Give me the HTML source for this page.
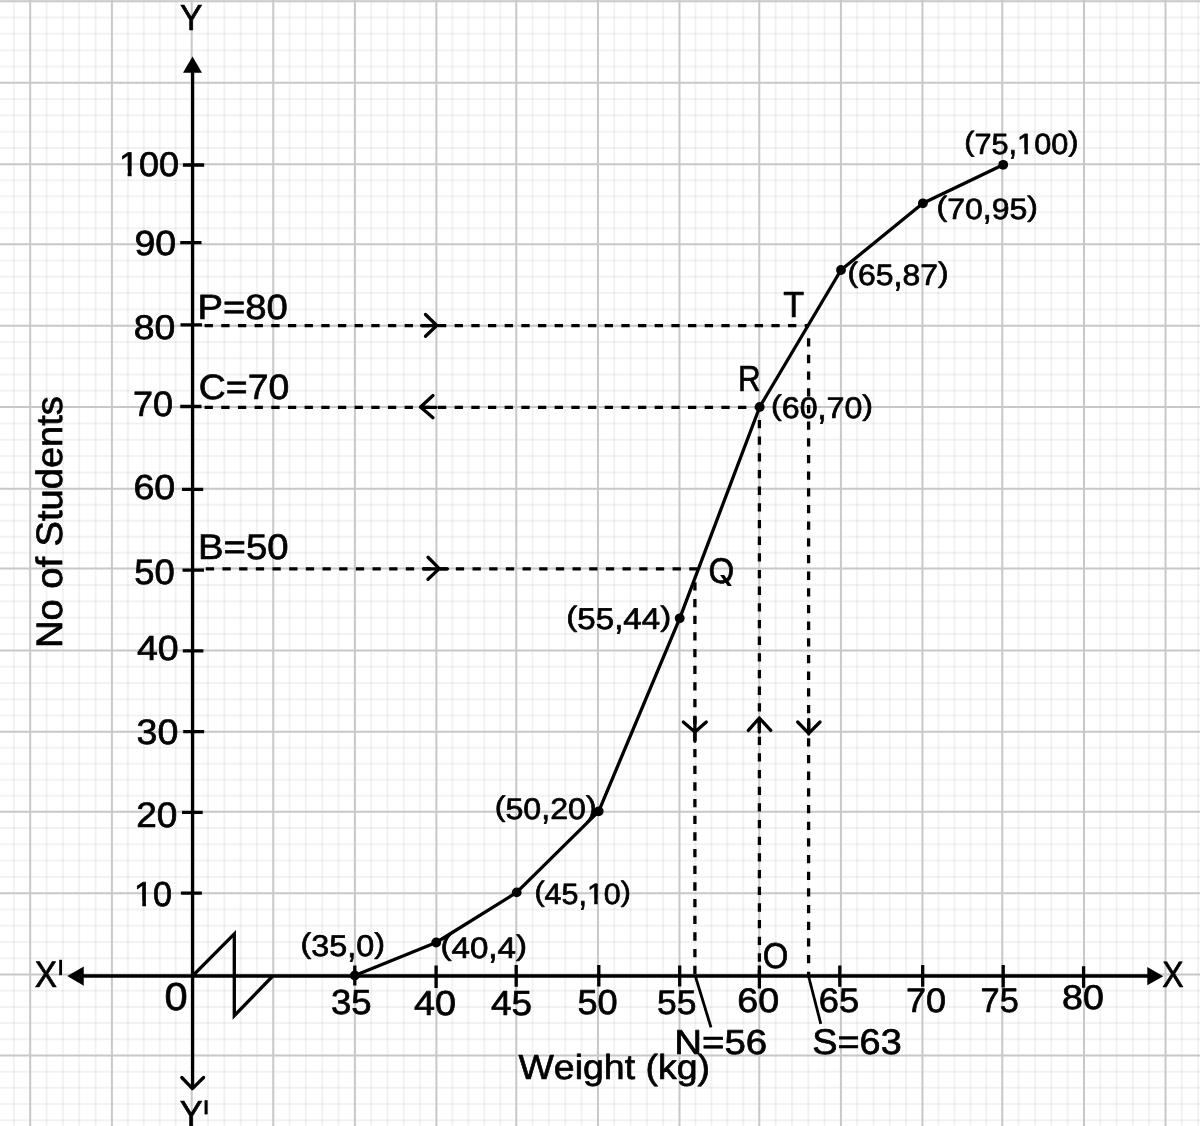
<!DOCTYPE html>
<html><head><meta charset="utf-8"><title>Ogive: Weight (kg) vs No of Students</title>
<style>
html,body{margin:0;padding:0;background:#fff;overflow:hidden}
svg{display:block}
text{font-family:"Liberation Sans",sans-serif}
</style></head>
<body>
<svg width="1200" height="1126" viewBox="0 0 1200 1126" style="will-change:transform" text-rendering="geometricPrecision">
<rect width="1200" height="1126" fill="#fff"/>
<defs><clipPath id="c0"><path clip-rule="evenodd" d="M-50 -51.48H152.96V34.32H-50ZM1.11 -5.91H8.28V1.85H1.11ZM12.01 -5.91H18.91V1.85H12.01Z"/></clipPath><clipPath id="c1"><path clip-rule="evenodd" d="M-50 -51.91H119.21V34.60H-50ZM1.14 -5.94H8.35V1.85H1.14ZM12.11 -5.94H19.06V1.85H12.11Z"/></clipPath><clipPath id="c2"><path clip-rule="evenodd" d="M-50 -44.07H108.76V29.38H-50ZM0.74 -5.54H7.04V1.85H0.74ZM10.33 -5.54H16.40V1.85H10.33Z"/></clipPath><clipPath id="c3"><path clip-rule="evenodd" d="M-50 -43.86H137.71V29.24H-50ZM0.73 -5.53H7.00V1.85H0.73ZM10.29 -5.53H16.33V1.85H10.29Z"/></clipPath><clipPath id="cq"><rect x="-10" y="-46.45" width="71.47" height="47.35"/></clipPath></defs>
<path d="M13.86 0V1126M46.54 0V1126M62.88 0V1126M79.22 0V1126M95.56 0V1126M127.86 0V1126M143.82 0V1126M159.78 0V1126M175.74 0V1126M208.01 0V1126M224.32 0V1126M240.63 0V1126M256.94 0V1126M289.58 0V1126M305.91 0V1126M322.24 0V1126M338.57 0V1126M371.20 0V1126M387.50 0V1126M403.80 0V1126M420.10 0V1126M452.37 0V1126M468.34 0V1126M484.31 0V1126M500.28 0V1126M532.59 0V1126M548.93 0V1126M565.27 0V1126M581.61 0V1126M614.26 0V1126M630.57 0V1126M646.88 0V1126M663.19 0V1126M695.46 0V1126M711.42 0V1126M727.38 0V1126M743.34 0V1126M775.62 0V1126M791.94 0V1126M808.26 0V1126M824.58 0V1126M857.21 0V1126M873.52 0V1126M889.83 0V1126M906.14 0V1126M938.41 0V1126M954.37 0V1126M970.33 0V1126M986.29 0V1126M1018.60 0V1126M1034.95 0V1126M1051.30 0V1126M1067.65 0V1126M1100.30 0V1126M1116.60 0V1126M1132.90 0V1126M1149.20 0V1126M1181.80 0V1126M1198.10 0V1126" stroke="#000" stroke-opacity="0.052" stroke-width="2" fill="none"/>
<path d="M0 17.51H1200M0 33.82H1200M0 50.13H1200M0 66.44H1200M0 99.06H1200M0 115.37H1200M0 131.68H1200M0 147.99H1200M0 180.28H1200M0 196.26H1200M0 212.24H1200M0 228.22H1200M0 260.50H1200M0 276.80H1200M0 293.10H1200M0 309.40H1200M0 341.98H1200M0 358.26H1200M0 374.54H1200M0 390.82H1200M0 423.44H1200M0 439.78H1200M0 456.12H1200M0 472.46H1200M0 504.76H1200M0 520.72H1200M0 536.68H1200M0 552.64H1200M0 584.96H1200M0 601.32H1200M0 617.68H1200M0 634.04H1200M0 666.66H1200M0 682.92H1200M0 699.18H1200M0 715.44H1200M0 747.69H1200M0 763.68H1200M0 779.67H1200M0 795.66H1200M0 827.96H1200M0 844.27H1200M0 860.58H1200M0 876.89H1200M0 909.46H1200M0 925.72H1200M0 941.98H1200M0 958.24H1200M0 990.69H1200M0 1006.88H1200M0 1023.07H1200M0 1039.26H1200M0 1071.66H1200M0 1087.87H1200M0 1104.08H1200M0 1120.29H1200" stroke="#000" stroke-opacity="0.052" stroke-width="2" fill="none"/>
<path d="M30.20 0V1126M111.90 0V1126M191.70 0V1126M273.25 0V1126M354.90 0V1126M436.40 0V1126M516.25 0V1126M597.95 0V1126M679.50 0V1126M759.30 0V1126M840.90 0V1126M922.45 0V1126M1002.25 0V1126M1084.00 0V1126M1165.50 0V1126M0 1.20H1200M0 82.75H1200M0 164.30H1200M0 244.20H1200M0 325.70H1200M0 407.10H1200M0 488.80H1200M0 568.60H1200M0 650.40H1200M0 731.70H1200M0 811.65H1200M0 893.20H1200M0 974.50H1200M0 1055.45H1200M0 1136.50H1200" stroke="#c8c8c8" stroke-width="2" fill="none"/>
<g stroke="#000" stroke-width="3.3" fill="none">
<path d="M192.6 70V1088.5"/>
<path d="M80 976H1150"/>
<path d="M181.8 1077.5L192.4 1088.6L203.6 1077.5" stroke-linecap="round" stroke-linejoin="round"/>
<path d="M192.5 976L234.3 933.9V1015.7L272.8 976" stroke-linejoin="miter" stroke-miterlimit="10"/>
<path d="M182.9 165.0H204.2M180.2 242.6H201.5M180.5 324.8H202.0M180.2 406.5H201.5M182.0 489.3H203.2M182.5 570.1H204.0M182.8 650.9H203.4M183.2 731.6H204.1M182.0 812.3H202.7M180.9 893.1H201.9"/>
<path d="M354.8 965.5V985.5M436.1 965.5V988.0M516.2 965.0V986.8M598.8 965.0V986.5M679.7 965.5V986.5M759.4 965.5V988.5M839.8 965.5V986.8M922.7 965.0V986.8M1003.2 965.0V987.5M1083.6 966.2V987.8"/>
</g>
<path d="M192.5 56.4L183 72.7H202Z" fill="#000"/>
<path d="M67.25 976L83.75 966.5V985.75Z" fill="#000"/>
<path d="M1163.3 976.2L1147.3 967V985.3Z" fill="#000"/>
<g stroke="#000" stroke-width="3.3" fill="none" stroke-dasharray="8.3 8.37">
<path d="M204.6 325.6H809"/>
<path d="M204.6 407.3H759.7"/>
<path d="M205.8 568.8H697"/>
<path d="M694.9 582.3V976"/>
<path d="M759.4 419.9V976"/>
<path d="M808.6 338.2V976"/>
</g>
<g stroke="#000" stroke-width="3.3" fill="none" stroke-linecap="round" stroke-linejoin="round">
<path d="M425.5 314.5L436.75 325.5L425.5 336.25M421.5 325.6H436"/>
<path d="M433 395.5L420.5 407L433 417.75M420.5 407.3H436"/>
<path d="M428 557.25L439.25 568.6L428 579.25M423.5 568.8H447.5"/>
<path d="M683.3 722L694.9 732L706.3 722M694.9 717.3V741.3"/>
<path d="M748.4 730.4L759.3 718L770.7 730.4M759.3 718V732"/>
<path d="M797.7 722L808.7 733.3L820 722M808.7 719.3V734"/>
</g>
<g stroke="#000" stroke-width="2.8" fill="none">
<path d="M695.3 976L711 1027.4"/>
<path d="M808.5 976L820.8 1023.8"/>
</g>
<path d="M354.8 975.5L436.2 942.5L516.7 892.4L598.7 811.3L679.7 618.3L759.7 407L841 270L922.9 203.3L1003.2 164.8" stroke="#000" stroke-width="3.3" fill="none" stroke-linejoin="round"/>
<circle cx="354.8" cy="975.5" r="4.9" fill="#000"/>
<circle cx="436.2" cy="942.5" r="4.9" fill="#000"/>
<circle cx="516.7" cy="892.4" r="4.9" fill="#000"/>
<circle cx="598.7" cy="811.3" r="4.9" fill="#000"/>
<circle cx="679.7" cy="618.3" r="4.9" fill="#000"/>
<circle cx="759.7" cy="407" r="4.9" fill="#000"/>
<circle cx="841" cy="270" r="4.9" fill="#000"/>
<circle cx="922.9" cy="203.3" r="4.9" fill="#000"/>
<circle cx="1003.2" cy="164.8" r="4.9" fill="#000"/>
<g font-family="Liberation Sans, sans-serif" fill="#000" stroke="#000" stroke-width="0.7" stroke-linejoin="round" style="font-kerning:none">
<text transform="translate(118.99,176.01) scale(1.0471,1)" font-size="34.32" clip-path="url(#c0)">100</text>
<text transform="translate(134.39,255.11) scale(1.0752,1)" font-size="34.89">90</text>
<text transform="translate(133.73,339.31) scale(1.0893,1)" font-size="34.32">80</text>
<text transform="translate(132.90,416.06) scale(1.0218,1)" font-size="35.24">70</text>
<text transform="translate(133.44,499.31) scale(1.0881,1)" font-size="34.60">60</text>
<text transform="translate(134.29,584.11) scale(1.0361,1)" font-size="35.17">50</text>
<text transform="translate(136.89,660.21) scale(1.0753,1)" font-size="34.89">40</text>
<text transform="translate(136.62,744.10) scale(1.0600,1)" font-size="35.45">30</text>
<text transform="translate(136.19,827.10) scale(1.0437,1)" font-size="35.45">20</text>
<text transform="translate(134.06,906.11) scale(0.9879,1)" font-size="34.60" clip-path="url(#c1)">10</text>
<text transform="translate(330.96,1014.11) scale(1.0469,1)" font-size="34.89">35</text>
<text transform="translate(413.88,1015.01) scale(1.0923,1)" font-size="34.60">40</text>
<text transform="translate(491.00,1015.01) scale(1.0610,1)" font-size="34.83">45</text>
<text transform="translate(577.50,1014.11) scale(1.0461,1)" font-size="34.60">50</text>
<text transform="translate(656.93,1014.12) scale(1.0393,1)" font-size="34.18">55</text>
<text transform="translate(737.24,1012.32) scale(1.1085,1)" font-size="33.97">60</text>
<text transform="translate(818.75,1012.32) scale(1.0698,1)" font-size="33.97">65</text>
<text transform="translate(905.90,1012.32) scale(1.0601,1)" font-size="33.97">70</text>
<text transform="translate(980.59,1012.32) scale(1.0069,1)" font-size="34.11">75</text>
<text transform="translate(1062.12,1009.01) scale(1.0950,1)" font-size="34.32">80</text>
<text transform="translate(180.01,29.65) scale(0.9313,1)" font-size="36.19">Y</text>
<text transform="translate(34.85,986.65) scale(0.9071,1)" font-size="36.77">X</text>
<text transform="translate(1162.33,986.90) scale(0.8774,1)" font-size="36.56">X</text>
<text transform="translate(179.80,1126.15) scale(0.9490,1)" font-size="36.19">Y</text>
<text transform="translate(164.62,1010.17) scale(1.0679,1)" font-size="38.98">0</text>
<text transform="translate(197.41,319.01) scale(1.0925,1)" font-size="35.03">P=80</text>
<text transform="translate(198.85,399.41) scale(1.0636,1)" font-size="35.17">C=70</text>
<text transform="translate(198.00,559.40) scale(1.0776,1)" font-size="35.59">B=50</text>
<text transform="translate(783.33,316.55) scale(0.9418,1)" font-size="36.34">T</text>
<text transform="translate(738.07,391.35) scale(0.8702,1)" font-size="36.19">R</text>
<text transform="translate(762.69,968.10) scale(0.9188,1)" font-size="35.88">O</text>
<text transform="translate(674.19,1053.51) scale(1.1131,1)" font-size="34.60">N=56</text>
<text transform="translate(812.23,1053.70) scale(1.0596,1)" font-size="35.73">S=63</text>
<text transform="translate(518.49,1079.05) scale(1.0743,1)" font-size="34.88">Weight (kg)</text>
<text transform="translate(300.44,953.10) scale(1.0804,0.9517)" font-size="29.94">(</text>
<text transform="translate(311.22,956.06) scale(1.0804,1)" font-size="29.94">35</text>
<text transform="translate(347.20,956.52) scale(1.0804,1.2087)" font-size="29.94">,</text>
<text transform="translate(356.19,956.06) scale(1.0804,1)" font-size="29.94">0</text>
<text transform="translate(374.18,953.10) scale(1.0804,0.9517)" font-size="29.94">)</text>
<text transform="translate(440.39,954.77) scale(1.1245,0.9545)" font-size="29.52">(</text>
<text transform="translate(451.45,957.66) scale(1.1245,1)" font-size="29.52">40</text>
<text transform="translate(488.37,958.12) scale(1.1245,1.2260)" font-size="29.52">,</text>
<text transform="translate(497.59,957.66) scale(1.1245,1)" font-size="29.52">4</text>
<text transform="translate(516.05,954.77) scale(1.1245,0.9545)" font-size="29.52">)</text>
<text transform="translate(534.46,901.29) scale(1.0364,0.9554)" font-size="29.38">(</text>
<text transform="translate(544.60,904.16) scale(1.0364,1)" font-size="29.38">45</text>
<text transform="translate(578.47,904.62) scale(1.0364,1.2319)" font-size="29.38">,</text>
<text transform="translate(586.93,904.16) scale(1.0364,1)" font-size="29.38" clip-path="url(#c2)">10</text>
<text transform="translate(620.80,901.29) scale(1.0364,0.9554)" font-size="29.38">)</text>
<text transform="translate(494.76,816.02) scale(1.0790,0.9526)" font-size="29.80">(</text>
<text transform="translate(505.46,818.96) scale(1.0790,1)" font-size="29.80">50</text>
<text transform="translate(541.23,819.42) scale(1.0790,1.2144)" font-size="29.80">,</text>
<text transform="translate(550.17,818.96) scale(1.0790,1)" font-size="29.80">20</text>
<text transform="translate(585.94,816.02) scale(1.0790,0.9526)" font-size="29.80">)</text>
<text transform="translate(566.30,625.94) scale(1.1001,0.9398)" font-size="30.10">(</text>
<text transform="translate(577.32,628.86) scale(1.1001,1)" font-size="30.10">55</text>
<text transform="translate(614.15,629.32) scale(1.1001,1.2025)" font-size="30.10">,</text>
<text transform="translate(623.35,628.86) scale(1.1001,1)" font-size="30.10">44</text>
<text transform="translate(660.18,625.94) scale(1.1001,0.9398)" font-size="30.10">)</text>
<text transform="translate(771.05,415.32) scale(1.0801,0.9526)" font-size="29.80">(</text>
<text transform="translate(781.77,418.26) scale(1.0801,1)" font-size="29.80">60</text>
<text transform="translate(817.58,418.72) scale(1.0801,1.2144)" font-size="29.80">,</text>
<text transform="translate(826.52,418.26) scale(1.0801,1)" font-size="29.80">70</text>
<text transform="translate(862.33,415.32) scale(1.0801,0.9526)" font-size="29.80">)</text>
<text transform="translate(847.47,282.17) scale(1.0804,0.9545)" font-size="29.52">(</text>
<text transform="translate(858.09,285.06) scale(1.0804,1)" font-size="29.52">65</text>
<text transform="translate(893.57,285.52) scale(1.0804,1.2260)" font-size="29.52">,</text>
<text transform="translate(902.43,285.06) scale(1.0804,1)" font-size="29.52">87</text>
<text transform="translate(937.91,282.17) scale(1.0804,0.9545)" font-size="29.52">)</text>
<text transform="translate(936.57,215.79) scale(1.0890,0.9554)" font-size="29.38">(</text>
<text transform="translate(947.22,218.66) scale(1.0890,1)" font-size="29.38">70</text>
<text transform="translate(982.81,219.12) scale(1.0890,1.2319)" font-size="29.38">,</text>
<text transform="translate(991.69,218.66) scale(1.0890,1)" font-size="29.38">95</text>
<text transform="translate(1027.28,215.79) scale(1.0890,0.9554)" font-size="29.38">)</text>
<text transform="translate(964.25,151.01) scale(1.0487,0.9564)" font-size="29.24">(</text>
<text transform="translate(974.46,153.86) scale(1.0487,1)" font-size="29.24">75</text>
<text transform="translate(1008.56,154.32) scale(1.0487,1.2379)" font-size="29.24">,</text>
<text transform="translate(1017.08,153.86) scale(1.0487,1)" font-size="29.24" clip-path="url(#c3)">100</text>
<text transform="translate(1068.24,151.01) scale(1.0487,0.9564)" font-size="29.24">)</text>
<text transform="translate(708.38,582.80) scale(0.9265,1)" font-size="35.73" clip-path="url(#cq)">Q</text>
<text transform="translate(61.85,644.95) rotate(-90) translate(-3.12,0) scale(1.0359,1)" font-size="36.77">No of Students</text>
</g>
<path d="M720.1 575.1H724.2L731.9 585.9H727.7Z" fill="#000"/>
<path d="M60.6 959.8V975.2" stroke="#000" stroke-width="2.8"/>
<path d="M206.1 1100.2V1114.4" stroke="#000" stroke-width="3.1"/>
</svg>
</body></html>
